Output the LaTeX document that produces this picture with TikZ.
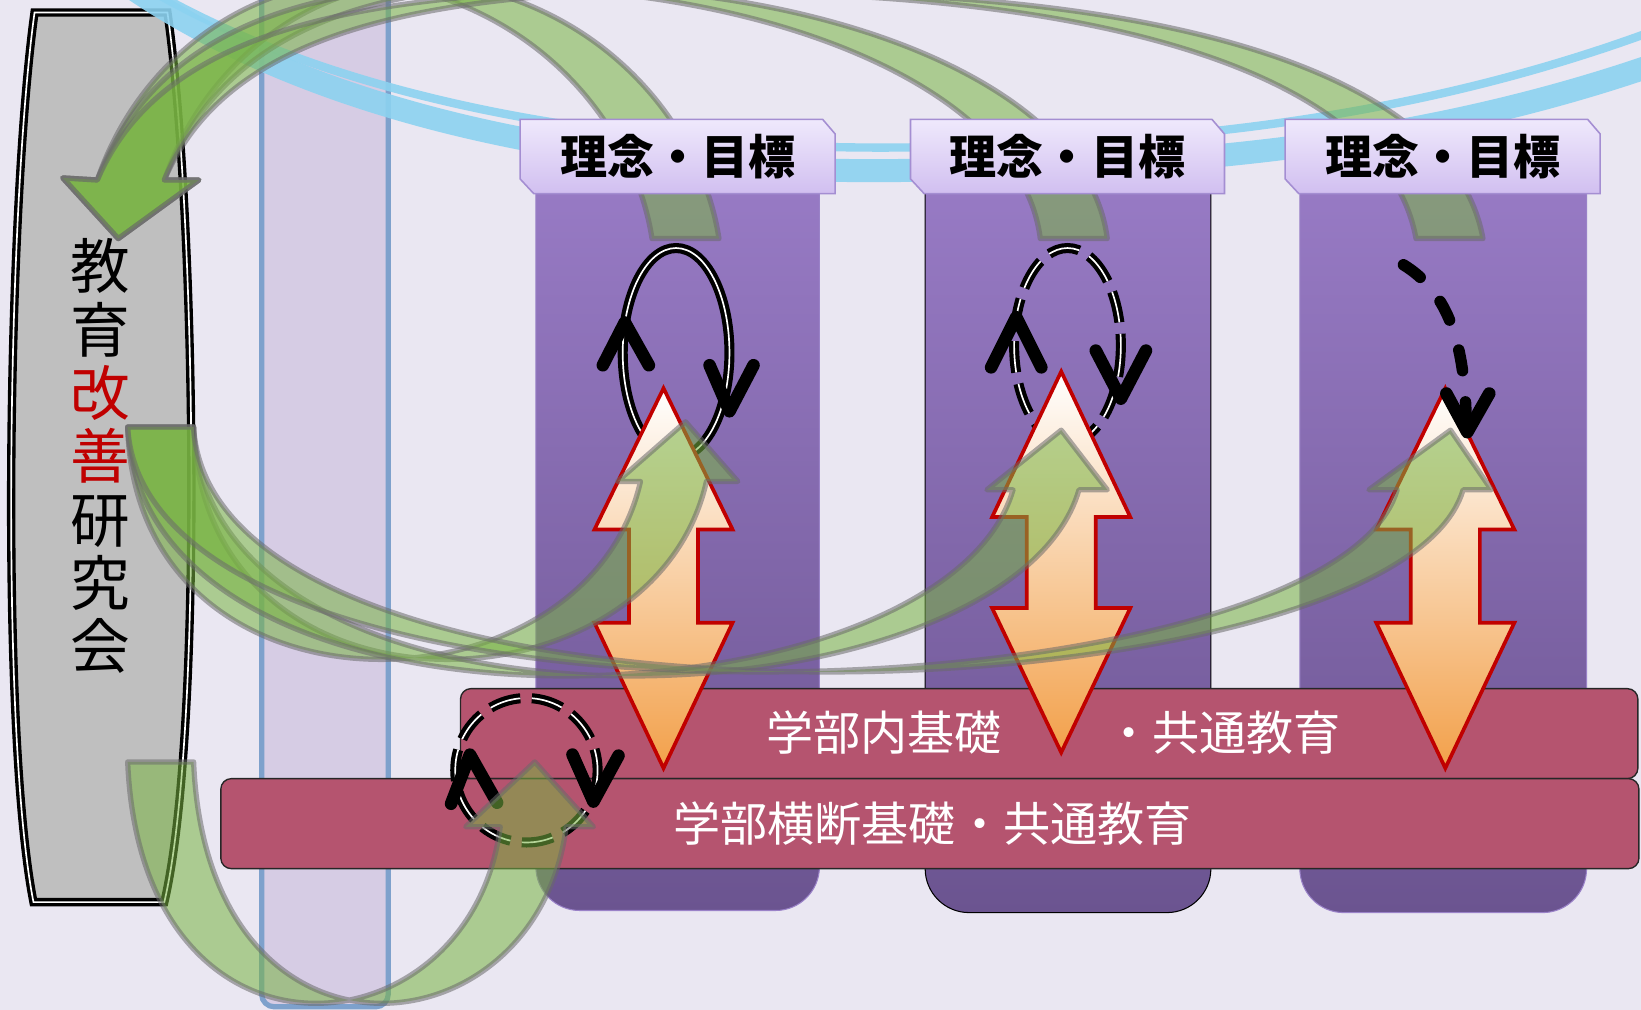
\documentclass[tikz,border=0pt]{standalone}
\usepackage{fontspec}
\newfontfamily\cjk{Noto Sans CJK JP}
\definecolor{bg}{HTML}{EAE7F2}
\definecolor{stripe}{HTML}{D6CCE4}
\definecolor{stripeedge}{HTML}{7EA1CC}
\definecolor{boxgray}{HTML}{BFBFBF}
\definecolor{skyb}{HTML}{8CD2F0}
\definecolor{coltop}{HTML}{977AC4}
\definecolor{colbot}{HTML}{6B5490}
\definecolor{coledge}{HTML}{9A82C8}
\definecolor{hdtop}{HTML}{EFE9FC}
\definecolor{hdbot}{HTML}{D1BFF0}
\definecolor{hdedge}{HTML}{A48ED2}
\definecolor{barpink}{HTML}{B5546F}
\definecolor{arrred}{HTML}{C00000}
\definecolor{arrorg}{HTML}{F2A04A}
\definecolor{grn}{HTML}{79B443}
\definecolor{gedge}{HTML}{6A6A6A}
\definecolor{kred}{HTML}{C00000}
\tikzset{
  column/.style={top color=coltop, bottom color=colbot, draw=coledge, line width=1},
  header/.style={top color=hdtop, bottom color=hdbot, draw=hdedge, line width=1.5},
  hdtext/.style={font=\cjk\bfseries\fontsize{45}{50}\selectfont, inner sep=0},
  bar/.style={fill=barpink, draw=black!85, line width=1.3, rounded corners=10},
  bartext/.style={text=white, font=\cjk\fontsize{45}{50}\selectfont, inner sep=0},
  dblarrow/.style={top color=white, bottom color=arrorg, draw=arrred, line width=3.5, miter limit=10},
  cyc/.style={draw=black, line width=4, double=white, double distance=1.6},
  cycdash/.style={cyc, dash pattern=on 30 off 11},
  vtip/.style={draw=black, line width=12, line cap=round, line join=round},
  garrow/.style={fill=grn, fill opacity=0.55, draw=gedge, draw opacity=0.55, line width=5, line join=round},
  skyband/.style={draw=skyb, draw opacity=0.9},
}
\begin{document}
\begin{tikzpicture}[x=1pt,y=-1pt]
\path[fill=bg] (0,0) rectangle (1568,965);
\useasboundingbox (0,0) rectangle (1568,965);
\clip (0,0) rectangle (1568,965);
% vertical stripe
\path[fill=stripe, draw=stripeedge, line width=5, rounded corners=12] (250,-20) rectangle (371,962);
% left box
\path[fill=boxgray, draw=black, line width=3.2, double=white, double distance=1.6]
  (33,12) -- (160,12) .. controls (187,200) and (195,700) .. (157,862)
  -- (32,862) .. controls (0,700) and (7,200) .. (33,12) -- cycle;
\node[font=\cjk\fontsize{57}{60.5}\selectfont, align=center, inner sep=0] (kenkyukai) at (96,436)
  {教\\育\\{\color{kred}改}\\{\color{kred}善}\\研\\究\\会};
% sky-blue bands
\draw[skyband, line width=22] (100,-30) .. controls (300,120) and (600,165) .. (850,163)
  .. controls (1100,161) and (1350,145) .. (1600,55);
\draw[skyband, line width=8] (110,-30) .. controls (310,100) and (600,142) .. (850,141)
  .. controls (1100,140) and (1350,118) .. (1600,22);
% columns
\path[column] (512,200) -- (512,182) -- (783,182) -- (783,200) [rounded corners=42] -- (783,870) -- (512,870) -- cycle;
\path[column, draw=black] (884,200) -- (884,182) -- (1157,182) -- (1157,200) [rounded corners=42] -- (1157,872) -- (884,872) -- cycle;
\path[column] (1242,200) -- (1242,182) -- (1516,182) -- (1516,200) [rounded corners=42] -- (1516,872) -- (1242,872) -- cycle;
% bars
\path[bar] (440,658) rectangle (1565,744);
\node[bartext] (bar1a) at (845,700) {学部内基礎};
\node[bartext, anchor=west] (bar1b) at (1056,700) {・共通教育};
\path[bar] (211,744) rectangle (1566,830);
\node[bartext] (bar2) at (891,787) {学部横断基礎・共通教育};
% cycles
\draw[cyc] (646,337) ellipse [x radius=51, y radius=100];
\draw[vtip] (576,349) -- (597,308) -- (620,349);
\draw[vtip] (678,349) -- (697,393) -- (720,349);
\draw[cycdash] (1020,330) ellipse [x radius=51, y radius=93];
\draw[vtip] (947,351) -- (971,303) -- (995,351);
\draw[vtip] (1047,335) -- (1071,381) -- (1095,335);
\draw[cycdash] (503,736) ellipse [x radius=68, y radius=69];
\draw[vtip] (431,768) -- (449,721) -- (475,767);
\draw[vtip] (547,721) -- (567,766) -- (591,722);
% red double arrows
\path[dblarrow] (634,371) -- (700,506) -- (667,506) -- (667,595) -- (700,595) -- (634,734)
  -- (568,595) -- (601,595) -- (601,506) -- (568,506) -- cycle;
\path[dblarrow] (1014,355) -- (1080,494) -- (1047,494) -- (1047,581) -- (1080,581) -- (1014,719)
  -- (948,581) -- (981,581) -- (981,494) -- (948,494) -- cycle;
\path[dblarrow] (1381,371) -- (1447,506) -- (1414,506) -- (1414,595) -- (1447,595) -- (1381,734)
  -- (1315,595) -- (1348,595) -- (1348,506) -- (1315,506) -- cycle;
% col3 dashed curve
\draw[black, line width=11, line cap=round, dash pattern=on 20 off 30] (1341,253) .. controls (1385,280) and (1400,330) .. (1401,406);
\draw[vtip] (1382,376) -- (1402,413) -- (1423,376);
% green arrows A (columns -> box)
\path[garrow] (623,228) .. controls (608,130) and (528,20) .. (388,-12) .. controls (268,-38) and (138,40) .. (93,172)
  -- (60,170) -- (113,228) -- (190,172)
  -- (157,172) .. controls (202,40) and (332,-38) .. (452,-12) .. controls (592,20) and (672,130) .. (687,228) -- cycle;
\path[garrow] (994,228) .. controls (978,100) and (788,12) .. (568,-8) .. controls (298,-35) and (148,30) .. (93,172)
  -- (60,170) -- (113,228) -- (190,172)
  -- (157,172) .. controls (212,30) and (362,-35) .. (632,-8) .. controls (852,12) and (1042,100) .. (1058,228) -- cycle;
\path[garrow] (1353,228) .. controls (1328,90) and (1118,10) .. (788,-5) .. controls (368,-25) and (158,20) .. (93,172)
  -- (60,170) -- (113,228) -- (190,172)
  -- (157,172) .. controls (222,20) and (432,-25) .. (852,-5) .. controls (1182,10) and (1392,90) .. (1417,228) -- cycle;
% green arrows B (box -> columns)
\path[garrow] (122,408) .. controls (130,700) and (560,690) .. (612,460) -- (590,460) -- (655,403) -- (705,460)
  -- (675,460) .. controls (623,690) and (193,700) .. (185,408) -- cycle;
\path[garrow] (122,408) .. controls (135,730) and (900,700) .. (968,468) -- (943,468) -- (1014,411) -- (1058,468)
  -- (1031,468) .. controls (963,700) and (198,730) .. (185,408) -- cycle;
\path[garrow] (122,408) .. controls (140,730) and (1270,690) .. (1335,468) -- (1308,468) -- (1386,411) -- (1425,468)
  -- (1398,468) .. controls (1333,690) and (203,730) .. (185,408) -- cycle;
% green arrow C (box -> bottom cycle)
\path[garrow] (122,728) .. controls (135,1040) and (450,1010) .. (478,790) -- (445,790) -- (511,728) -- (567,790)
  -- (541,790) .. controls (513,1010) and (198,1040) .. (185,728) -- cycle;
% headers
\path[header] (497,114) -- (786,114) -- (798,128) -- (798,185) -- (510,185) -- (497,171) -- cycle;
\node[hdtext] (goal1) at (648,150) {理念・目標};
\path[header] (870,114) -- (1158,114) -- (1170,128) -- (1170,185) -- (883,185) -- (870,171) -- cycle;
\node[hdtext] (goal2) at (1020,150) {理念・目標};
\path[header] (1228,114) -- (1517,114) -- (1529,128) -- (1529,185) -- (1241,185) -- (1228,171) -- cycle;
\node[hdtext] (goal3) at (1379,150) {理念・目標};
\end{tikzpicture}
\end{document}
